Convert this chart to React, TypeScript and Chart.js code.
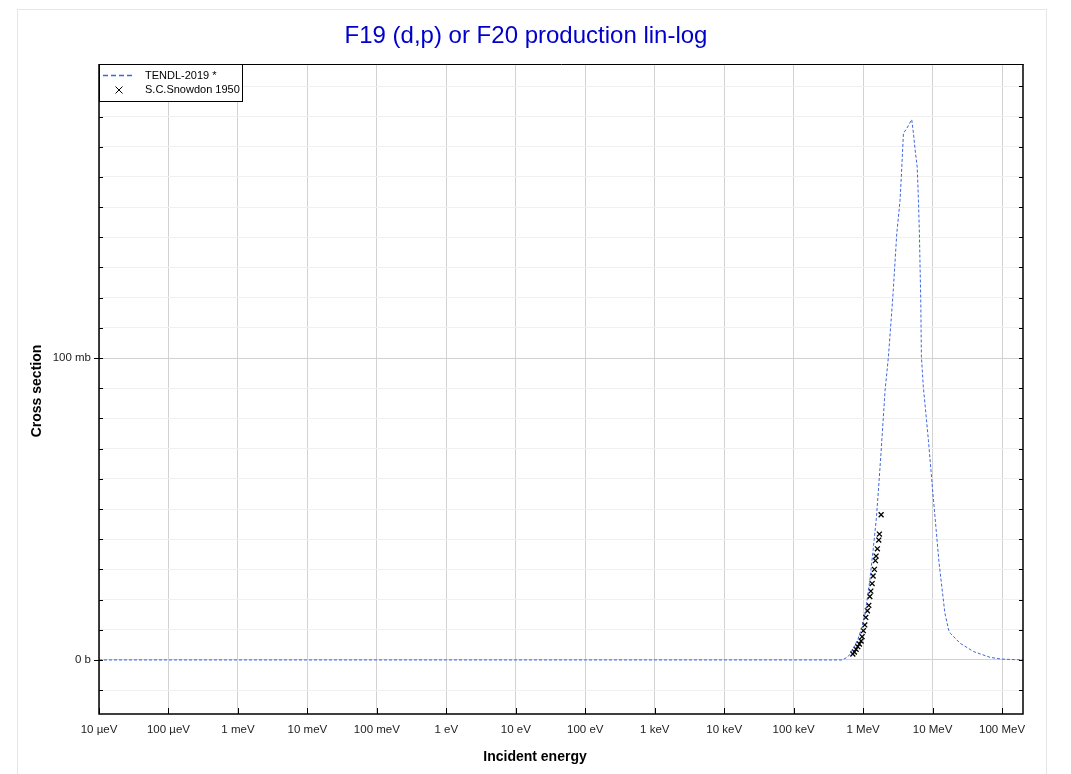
import React, { useEffect, useRef } from "react";
import { Chart, registerables } from "chart.js";

Chart.register(...registerables);

// TENDL-2019 evaluated cross section (energy in eV, cross section in mb)
const tendlEnergy = [
  1e-5, 1e-2, 1, 1e2, 1e4, 1e5, 5.0e5, 6.0e5, 6.5e5, 7.5e5, 8.5e5, 9.5e5,
  1.05e6, 1.15e6, 1.25e6, 1.4e6, 1.55e6, 1.66e6, 1.8e6, 2.07e6, 2.31e6, 2.67e6,
  3.05e6, 3.4e6, 3.6e6, 3.8e6, 4.25e6, 5.0e6, 5.3e6, 5.6e6, 6.0e6, 6.25e6,
  6.45e6, 6.75e6, 6.9e6, 7.35e6, 8.7e6, 1.0e7, 1.24e7, 1.5e7, 1.7e7, 1.8e7,
  2.5e7, 3.9e7, 6.7e7, 9.4e7, 1.5e8, 2e8,
];
const tendlXs = [
  0, 0, 0, 0, 0, 0, 0, 1.0, 2.0, 4.5, 7.2, 10.5,
  14.5, 20.5, 26.5, 37, 47, 56.3, 68, 89.4, 100.4, 120,
  141.3, 152.3, 163.3, 174.4, 176.1, 179.0, 174.4, 168.9, 163.3, 152.3,
  141.3, 119.2, 100.4, 90.5, 72.8, 56.3, 32, 15.6, 9.9, 8.8,
  5.5, 2.76, 0.88, 0.33, 0.1, 0.05,
];

// S.C.Snowdon 1950 experimental points (energy in eV, cross section in mb)
const snowdonEnergy = [
  7.10e5, 7.48e5, 7.91e5, 8.37e5, 8.83e5, 9.34e5, 9.66e5, 1.007e6, 1.056e6,
  1.091e6, 1.151e6, 1.205e6, 1.247e6, 1.289e6, 1.346e6, 1.391e6, 1.452e6,
  1.500e6, 1.535e6, 1.603e6, 1.679e6, 1.714e6, 1.813e6,
];
const snowdonXs = [
  1.99, 2.65, 3.54, 4.4, 5.3, 6.29, 7.72, 9.7, 11.6,
  14.1, 16.3, 18.1, 21.0, 22.8, 25.3, 27.8, 30.0,
  32.9, 34.4, 36.8, 39.7, 41.7, 48.1,
];

const xTickValues = [1e-5, 1e-4, 1e-3, 1e-2, 1e-1, 1, 10, 100, 1e3, 1e4, 1e5, 1e6, 1e7, 1e8];
const xTickLabels = [
  "10 µeV", "100 µeV", "1 meV", "10 meV", "100 meV", "1 eV", "10 eV",
  "100 eV", "1 keV", "10 keV", "100 keV", "1 MeV", "10 MeV", "100 MeV",
];
const yLabelMap: Record<number, string> = { 0: "0 b", 100: "100 mb" };

const X_MIN = 1e-5;
const X_MAX = 2e8;
const Y_MIN = -17.9;
const Y_MAX = 197.4;
const Y_STEP = 10;

const FONT = "'Liberation Sans', Arial, Helvetica, sans-serif";
const LINE_BLUE = "#3f66e0";

const decorPlugin = {
  id: "decor",
  beforeDraw(chart: any) {
    const ctx = chart.ctx;
    ctx.save();
    ctx.fillStyle = "#ffffff";
    ctx.fillRect(0, 0, chart.width, chart.height);
    ctx.strokeStyle = "#e6e6e6";
    ctx.lineWidth = 1;
    ctx.strokeRect(17.5, 9.5, 1029, 800);
    ctx.restore();
  },
  afterDatasetsDraw(chart: any) {
    const ctx = chart.ctx;
    const { left, right, top, bottom } = chart.chartArea;
    const xs = chart.scales.x;
    const ys = chart.scales.y;
    ctx.save();
    // frame
    ctx.strokeStyle = "#000";
    ctx.lineWidth = 1;
    ctx.beginPath();
    ctx.moveTo(left + 0.5, top + 0.5);
    ctx.lineTo(right + 0.5, top + 0.5);
    ctx.stroke();
    ctx.lineWidth = 1.5;
    ctx.beginPath();
    ctx.moveTo(left, top);
    ctx.lineTo(left, bottom);
    ctx.lineTo(right, bottom);
    ctx.lineTo(right, top);
    ctx.stroke();
    // x ticks (inward)
    ctx.lineWidth = 1;
    xs.ticks.forEach((t: any) => {
      const px = Math.round(xs.getPixelForValue(t.value)) + 0.5;
      ctx.beginPath();
      ctx.moveTo(px, bottom);
      ctx.lineTo(px, bottom - 6);
      ctx.stroke();
    });
    // y ticks
    ys.ticks.forEach((t: any) => {
      const py = Math.round(ys.getPixelForValue(t.value)) + 0.5;
      const major = yLabelMap[t.value] !== undefined;
      ctx.beginPath();
      ctx.moveTo(major ? left - 5 : left, py);
      ctx.lineTo(left + 4, py);
      ctx.moveTo(right - 4, py);
      ctx.lineTo(right, py);
      ctx.stroke();
    });
    // legend
    ctx.fillStyle = "#fff";
    ctx.fillRect(left + 0.5, top + 0.5, 143, 37);
    ctx.strokeStyle = "#000";
    ctx.lineWidth = 1;
    ctx.strokeRect(left + 0.5, top + 0.5, 143, 37);
    ctx.strokeStyle = LINE_BLUE;
    ctx.lineWidth = 1.5;
    ctx.setLineDash([5, 3]);
    ctx.beginPath();
    ctx.moveTo(left + 4, top + 11.5);
    ctx.lineTo(left + 33, top + 11.5);
    ctx.stroke();
    ctx.setLineDash([]);
    ctx.strokeStyle = "#000";
    ctx.lineWidth = 1;
    const cx = left + 20, cy = top + 26;
    ctx.beginPath();
    ctx.moveTo(cx - 3.5, cy - 3.5);
    ctx.lineTo(cx + 3.5, cy + 3.5);
    ctx.moveTo(cx + 3.5, cy - 3.5);
    ctx.lineTo(cx - 3.5, cy + 3.5);
    ctx.stroke();
    ctx.fillStyle = "#000";
    ctx.font = `11px ${FONT}`;
    ctx.textAlign = "left";
    ctx.textBaseline = "middle";
    ctx.fillText(chart.data.datasets[0].label, left + 46, top + 11.5);
    ctx.fillText(chart.data.datasets[1].label, left + 46, top + 26);
    // titles
    ctx.fillStyle = "#0000cc";
    ctx.font = `24px ${FONT}`;
    ctx.textAlign = "center";
    ctx.fillText("F19 (d,p) or F20 production lin-log", 526, 36);
    ctx.fillStyle = "#000";
    ctx.font = `bold 14px ${FONT}`;
    ctx.fillText("Incident energy", 535, 757);
    ctx.save();
    ctx.translate(37, (top + bottom) / 2 + 2);
    ctx.rotate(-Math.PI / 2);
    ctx.fillText("Cross section", 0, 0);
    ctx.restore();
    ctx.restore();
  },
};

export default function App() {
  const ref = useRef<HTMLCanvasElement | null>(null);
  useEffect(() => {
    if (!ref.current) return;
    const chart = new Chart(ref.current, {
      type: "scatter",
      data: {
        datasets: [
          {
            type: "line",
            label: "TENDL-2019 *",
            data: tendlEnergy.map((e, i) => ({ x: e, y: tendlXs[i] })),
            borderColor: LINE_BLUE,
            borderWidth: 1,
            borderDash: [3, 2],
            pointRadius: 0,
            tension: 0,
            fill: false,
          },
          {
            type: "scatter",
            label: "S.C.Snowdon 1950",
            data: snowdonEnergy.map((e, i) => ({ x: e, y: snowdonXs[i] })),
            pointStyle: "crossRot",
            pointRadius: 3.5,
            borderColor: "#000",
            backgroundColor: "#000",
            borderWidth: 1.3,
            showLine: false,
          },
        ],
      } as any,
      options: {
        animation: false,
        responsive: false,
        maintainAspectRatio: false,
        devicePixelRatio: 1,
        layout: { padding: { left: 0, top: 64, right: 48, bottom: 0 } },
        plugins: {
          legend: { display: false },
          tooltip: { enabled: false },
          title: { display: false },
        },
        scales: {
          x: {
            type: "logarithmic",
            min: X_MIN,
            max: X_MAX,
            afterBuildTicks: (s: any) => {
              s.ticks = xTickValues.map((v) => ({ value: v }));
            },
            afterFit: (s: any) => {
              s.height = 60;
            },
            ticks: {
              autoSkip: false,
              maxRotation: 0,
              padding: 9,
              color: "#222",
              font: { family: FONT, size: 11.5 },
              callback: (_v: any, i: number) => xTickLabels[i],
            },
            grid: { color: "#d2d2d2", lineWidth: 1, drawTicks: false },
            border: { display: false },
          },
          y: {
            type: "linear",
            min: Y_MIN,
            max: Y_MAX,
            afterBuildTicks: (s: any) => {
              const t: any[] = [];
              for (let v = Math.ceil(Y_MIN / Y_STEP) * Y_STEP; v <= Y_MAX; v += Y_STEP) t.push({ value: v });
              s.ticks = t;
            },
            afterFit: (s: any) => {
              s.width = 99;
            },
            ticks: {
              autoSkip: false,
              padding: 8,
              color: "#222",
              font: { family: FONT, size: 11.5 },
              callback: (v: any) => yLabelMap[v] ?? "",
            },
            grid: {
              drawTicks: false,
              lineWidth: 1,
              color: (c: any) => (c.tick && yLabelMap[c.tick.value] !== undefined ? "#d2d2d2" : "#f0f0f0"),
            },
            border: { display: false },
          },
        },
      } as any,
      plugins: [decorPlugin],
    });
    return () => chart.destroy();
  }, []);
  return (
    <canvas
      ref={ref}
      width={1071}
      height={774}
      style={{ position: "absolute", left: 0, top: 0, display: "block" }}
    />
  );
}
